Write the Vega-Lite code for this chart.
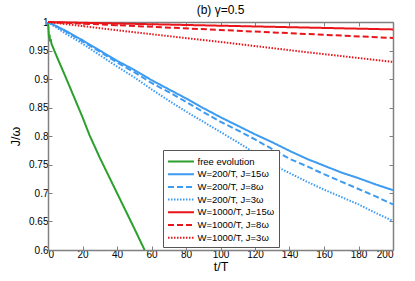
{
  "$schema": "https://vega.github.io/schema/vega-lite/v6.json",
  "width": 345,
  "height": 228,
  "autosize": "none",
  "padding": {"left": 48, "top": 22, "right": 22, "bottom": 31},
  "title": {"text": "(b) γ=0.5", "fontSize": 12, "fontWeight": "normal", "font": "Liberation Sans", "offset": 0, "color": "#000"},
  "config": {
    "view": {"stroke": null},
    "font": "Liberation Sans",
    "axis": {
      "domainColor": "#808080", "domainWidth": 1.5, "tickColor": "#808080", "tickWidth": 1,
      "tickSize": -4, "grid": false, "labelFontSize": 10, "labelColor": "#000",
      "titleFontSize": 12.5, "titleFontWeight": "normal", "titleColor": "#000"
    },
    "legend": {
      "orient": "none", "legendX": 115, "legendY": 128,
      "strokeColor": "#555", "fillColor": "#fff", "padding": 4,
      "labelFontSize": 9.5, "labelColor": "#000", "symbolType": "M-2,0H2", "symbolSize": 169,
      "symbolOffset": 6.5, "labelOffset": 9,
      "rowPadding": 0.7, "title": null
    }
  },
  "data": {"values": [
    {"t": 0, "J": 1.0, "s": "free evolution"},
    {"t": 0.3, "J": 0.985, "s": "free evolution"},
    {"t": 0.6, "J": 0.972, "s": "free evolution"},
    {"t": 0.9, "J": 0.978, "s": "free evolution"},
    {"t": 1.2, "J": 0.966, "s": "free evolution"},
    {"t": 1.6, "J": 0.97, "s": "free evolution"},
    {"t": 2, "J": 0.962, "s": "free evolution"},
    {"t": 5, "J": 0.94, "s": "free evolution"},
    {"t": 10, "J": 0.905, "s": "free evolution"},
    {"t": 15, "J": 0.869, "s": "free evolution"},
    {"t": 20, "J": 0.833, "s": "free evolution"},
    {"t": 24, "J": 0.802, "s": "free evolution"},
    {"t": 30, "J": 0.762, "s": "free evolution"},
    {"t": 35, "J": 0.731, "s": "free evolution"},
    {"t": 40, "J": 0.70, "s": "free evolution"},
    {"t": 45, "J": 0.669, "s": "free evolution"},
    {"t": 50, "J": 0.638, "s": "free evolution"},
    {"t": 56, "J": 0.6, "s": "free evolution"},

    {"t": 0, "J": 1.0, "s": "W=200/T, J=15ω"},
    {"t": 10, "J": 0.985, "s": "W=200/T, J=15ω"},
    {"t": 20, "J": 0.968, "s": "W=200/T, J=15ω"},
    {"t": 30, "J": 0.950, "s": "W=200/T, J=15ω"},
    {"t": 40, "J": 0.932, "s": "W=200/T, J=15ω"},
    {"t": 50, "J": 0.916, "s": "W=200/T, J=15ω"},
    {"t": 60, "J": 0.898, "s": "W=200/T, J=15ω"},
    {"t": 70, "J": 0.882, "s": "W=200/T, J=15ω"},
    {"t": 80, "J": 0.866, "s": "W=200/T, J=15ω"},
    {"t": 90, "J": 0.849, "s": "W=200/T, J=15ω"},
    {"t": 100, "J": 0.833, "s": "W=200/T, J=15ω"},
    {"t": 110, "J": 0.818, "s": "W=200/T, J=15ω"},
    {"t": 120, "J": 0.803, "s": "W=200/T, J=15ω"},
    {"t": 130, "J": 0.789, "s": "W=200/T, J=15ω"},
    {"t": 140, "J": 0.774, "s": "W=200/T, J=15ω"},
    {"t": 150, "J": 0.760, "s": "W=200/T, J=15ω"},
    {"t": 160, "J": 0.748, "s": "W=200/T, J=15ω"},
    {"t": 170, "J": 0.736, "s": "W=200/T, J=15ω"},
    {"t": 180, "J": 0.726, "s": "W=200/T, J=15ω"},
    {"t": 190, "J": 0.715, "s": "W=200/T, J=15ω"},
    {"t": 200, "J": 0.705, "s": "W=200/T, J=15ω"},

    {"t": 0, "J": 1.0, "s": "W=200/T, J=8ω"},
    {"t": 10, "J": 0.984, "s": "W=200/T, J=8ω"},
    {"t": 20, "J": 0.966, "s": "W=200/T, J=8ω"},
    {"t": 30, "J": 0.948, "s": "W=200/T, J=8ω"},
    {"t": 40, "J": 0.929, "s": "W=200/T, J=8ω"},
    {"t": 50, "J": 0.912, "s": "W=200/T, J=8ω"},
    {"t": 60, "J": 0.893, "s": "W=200/T, J=8ω"},
    {"t": 70, "J": 0.877, "s": "W=200/T, J=8ω"},
    {"t": 80, "J": 0.860, "s": "W=200/T, J=8ω"},
    {"t": 90, "J": 0.842, "s": "W=200/T, J=8ω"},
    {"t": 100, "J": 0.825, "s": "W=200/T, J=8ω"},
    {"t": 110, "J": 0.810, "s": "W=200/T, J=8ω"},
    {"t": 120, "J": 0.794, "s": "W=200/T, J=8ω"},
    {"t": 130, "J": 0.777, "s": "W=200/T, J=8ω"},
    {"t": 140, "J": 0.760, "s": "W=200/T, J=8ω"},
    {"t": 150, "J": 0.747, "s": "W=200/T, J=8ω"},
    {"t": 160, "J": 0.733, "s": "W=200/T, J=8ω"},
    {"t": 170, "J": 0.720, "s": "W=200/T, J=8ω"},
    {"t": 180, "J": 0.707, "s": "W=200/T, J=8ω"},
    {"t": 190, "J": 0.694, "s": "W=200/T, J=8ω"},
    {"t": 200, "J": 0.680, "s": "W=200/T, J=8ω"},

    {"t": 0, "J": 1.0, "s": "W=200/T, J=3ω"},
    {"t": 10, "J": 0.980, "s": "W=200/T, J=3ω"},
    {"t": 20, "J": 0.962, "s": "W=200/T, J=3ω"},
    {"t": 30, "J": 0.942, "s": "W=200/T, J=3ω"},
    {"t": 40, "J": 0.922, "s": "W=200/T, J=3ω"},
    {"t": 50, "J": 0.903, "s": "W=200/T, J=3ω"},
    {"t": 60, "J": 0.882, "s": "W=200/T, J=3ω"},
    {"t": 70, "J": 0.862, "s": "W=200/T, J=3ω"},
    {"t": 80, "J": 0.843, "s": "W=200/T, J=3ω"},
    {"t": 90, "J": 0.825, "s": "W=200/T, J=3ω"},
    {"t": 100, "J": 0.807, "s": "W=200/T, J=3ω"},
    {"t": 110, "J": 0.789, "s": "W=200/T, J=3ω"},
    {"t": 120, "J": 0.770, "s": "W=200/T, J=3ω"},
    {"t": 130, "J": 0.750, "s": "W=200/T, J=3ω"},
    {"t": 140, "J": 0.735, "s": "W=200/T, J=3ω"},
    {"t": 150, "J": 0.720, "s": "W=200/T, J=3ω"},
    {"t": 160, "J": 0.706, "s": "W=200/T, J=3ω"},
    {"t": 170, "J": 0.693, "s": "W=200/T, J=3ω"},
    {"t": 180, "J": 0.680, "s": "W=200/T, J=3ω"},
    {"t": 190, "J": 0.665, "s": "W=200/T, J=3ω"},
    {"t": 200, "J": 0.651, "s": "W=200/T, J=3ω"},

    {"t": 0, "J": 1.0, "s": "W=1000/T, J=15ω"},
    {"t": 100, "J": 0.9935, "s": "W=1000/T, J=15ω"},
    {"t": 200, "J": 0.987, "s": "W=1000/T, J=15ω"},

    {"t": 0, "J": 1.0, "s": "W=1000/T, J=8ω"},
    {"t": 100, "J": 0.986, "s": "W=1000/T, J=8ω"},
    {"t": 200, "J": 0.972, "s": "W=1000/T, J=8ω"},

    {"t": 0, "J": 1.0, "s": "W=1000/T, J=3ω"},
    {"t": 50, "J": 0.982, "s": "W=1000/T, J=3ω"},
    {"t": 100, "J": 0.965, "s": "W=1000/T, J=3ω"},
    {"t": 150, "J": 0.947, "s": "W=1000/T, J=3ω"},
    {"t": 200, "J": 0.930, "s": "W=1000/T, J=3ω"}
  ]},
  "layer": [
    {
      "mark": {"type": "line", "strokeCap": "butt"},
      "encoding": {
        "x": {"field": "t", "type": "quantitative", "scale": {"domain": [0, 200], "nice": false},
              "axis": {"values": [0, 20, 40, 60, 80, 100, 120, 140, 160, 180, 200], "title": "t/T", "labelPadding": 3, "titlePadding": 1}},
        "y": {"field": "J", "type": "quantitative", "scale": {"domain": [0.6, 1], "nice": false, "zero": false},
              "axis": {"values": [0.6, 0.65, 0.7, 0.75, 0.8, 0.85, 0.9, 0.95, 1], "format": "~g", "title": "J/ω", "labelPadding": 4, "titlePadding": 6}},
        "color": {"field": "s", "type": "nominal", "title": null,
          "scale": {"domain": ["free evolution", "W=200/T, J=15ω", "W=200/T, J=8ω", "W=200/T, J=3ω", "W=1000/T, J=15ω", "W=1000/T, J=8ω", "W=1000/T, J=3ω"],
                    "range": ["#2ca02c", "#3d9bf2", "#3d9bf2", "#3d9bf2", "#e8161b", "#e8161b", "#e8161b"]}},
        "strokeDash": {"field": "s", "type": "nominal", "title": null,
          "scale": {"domain": ["free evolution", "W=200/T, J=15ω", "W=200/T, J=8ω", "W=200/T, J=3ω", "W=1000/T, J=15ω", "W=1000/T, J=8ω", "W=1000/T, J=3ω"],
                    "range": [[1, 0], [1, 0], [6, 3], [1.5, 1.5], [1, 0], [6, 3], [1.5, 1.5]]}},
        "strokeWidth": {"field": "s", "type": "nominal", "title": null,
          "scale": {"domain": ["free evolution", "W=200/T, J=15ω", "W=200/T, J=8ω", "W=200/T, J=3ω", "W=1000/T, J=15ω", "W=1000/T, J=8ω", "W=1000/T, J=3ω"],
                    "range": [2, 2, 2, 1.3, 2, 2, 1.3]}}
      }
    },
    {
      "mark": {"type": "point", "opacity": 0},
      "encoding": {
        "x": {"field": "t", "type": "quantitative", "axis": {"orient": "top", "labels": false, "title": null, "values": [0, 20, 40, 60, 80, 100, 120, 140, 160, 180, 200]}},
        "y": {"field": "J", "type": "quantitative", "axis": {"orient": "right", "labels": false, "title": null, "values": [0.6, 0.65, 0.7, 0.75, 0.8, 0.85, 0.9, 0.95, 1]}}
      }
    }
  ],
  "resolve": {"axis": {"x": "independent", "y": "independent"}}
}
